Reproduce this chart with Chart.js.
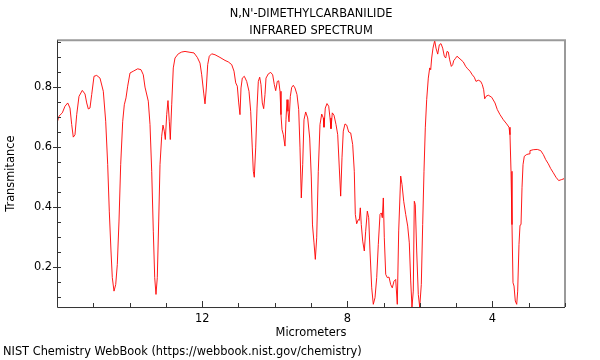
<!DOCTYPE html>
<html>
<head>
<meta charset="utf-8">
<script src="https://cdn.jsdelivr.net/npm/chart.js@4/dist/chart.umd.min.js"></script>
<style>
  html, body { margin: 0; padding: 0; background: #ffffff; }
  #wrap { width: 600px; height: 360px; }
</style>
</head>
<body>
<div id="wrap"><canvas id="c" width="600" height="360"></canvas></div>
<script>
// ---- Data ----
const titleLines = ["N,N'-DIMETHYLCARBANILIDE", "INFRARED SPECTRUM"];
const sourceNote = "NIST Chemistry WebBook (https://webbook.nist.gov/chemistry)";
const xAxisTitle = "Micrometers";
const yAxisTitle = "Transmitance";

const xTickLabels = [12, 8, 4];
const yTickLabels = [0.2, 0.4, 0.6, 0.8];

const micrometers = [
  16.000, 15.945, 15.854, 15.780, 15.705, 15.642, 15.595, 15.551, 15.504, 15.457,
  15.394, 15.303, 15.228, 15.181, 15.137, 15.091, 15.044, 14.980, 14.906, 14.815,
  14.724, 14.658, 14.603, 14.559, 14.512, 14.476, 14.429, 14.382, 14.338, 14.291,
  14.245, 14.189, 14.145, 14.098, 14.052, 13.988, 13.897, 13.776, 13.685, 13.622,
  13.575, 13.484, 13.437, 13.390, 13.346, 13.307, 13.272, 13.236, 13.197, 13.161,
  13.115, 13.079, 13.043, 13.015, 12.977, 12.941, 12.905, 12.878, 12.839, 12.795,
  12.748, 12.657, 12.563, 12.472, 12.335, 12.224, 12.133, 12.059, 12.012, 11.957,
  11.921, 11.885, 11.847, 11.803, 11.737, 11.646, 11.508, 11.370, 11.279, 11.185,
  11.122, 11.075, 11.031, 10.992, 10.957, 10.929, 10.893, 10.838, 10.772, 10.709,
  10.662, 10.618, 10.590, 10.563, 10.524, 10.488, 10.452, 10.414, 10.378, 10.342,
  10.304, 10.268, 10.240, 10.177, 10.111, 10.056, 10.011, 9.973, 9.929, 9.890,
  9.854, 9.827, 9.799, 9.763, 9.717, 9.689, 9.661, 9.634, 9.606, 9.570,
  9.532, 9.488, 9.441, 9.386, 9.339, 9.303, 9.267, 9.229, 9.193, 9.146,
  9.091, 9.036, 8.992, 8.959, 8.917, 8.881, 8.843, 8.799, 8.752, 8.705,
  8.661, 8.642, 8.606, 8.559, 8.512, 8.476, 8.449, 8.413, 8.366, 8.311,
  8.264, 8.220, 8.182, 8.146, 8.110, 8.063, 8.016, 7.961, 7.906, 7.851,
  7.807, 7.779, 7.741, 7.696, 7.669, 7.641, 7.614, 7.575, 7.531, 7.493,
  7.448, 7.410, 7.374, 7.327, 7.283, 7.236, 7.189, 7.145, 7.098, 7.063,
  7.035, 7.007, 6.980, 6.941, 6.897, 6.850, 6.804, 6.760, 6.713, 6.666,
  6.622, 6.583, 6.528, 6.492, 6.445, 6.390, 6.335, 6.291, 6.252, 6.217,
  6.181, 6.153, 6.126, 6.087, 6.043, 6.004, 5.960, 5.922, 5.886, 5.850,
  5.812, 5.767, 5.729, 5.701, 5.674, 5.638, 5.591, 5.555, 5.508, 5.464,
  5.417, 5.371, 5.326, 5.288, 5.252, 5.216, 5.178, 5.133, 5.095, 5.068,
  5.023, 4.976, 4.921, 4.866, 4.803, 4.737, 4.682, 4.618, 4.555, 4.500,
  4.453, 4.389, 4.323, 4.279, 4.241, 4.213, 4.177, 4.114, 4.020, 3.929,
  3.866, 3.791, 3.700, 3.607, 3.543, 3.516, 3.488, 3.461, 3.433, 3.405,
  3.370, 3.331, 3.304, 3.268, 3.240, 3.212, 3.185, 3.157, 3.122, 3.056,
  2.992, 2.965, 2.874, 2.763, 2.670, 2.598, 2.532, 2.460, 2.394, 2.322,
  2.248, 2.174, 2.102, 2.028, 2.000
];

const transmittance = [
  0.680, 0.703, 0.714, 0.736, 0.747, 0.730, 0.675, 0.633, 0.641, 0.708,
  0.769, 0.789, 0.777, 0.747, 0.727, 0.730, 0.775, 0.836, 0.839, 0.830,
  0.786, 0.686, 0.541, 0.386, 0.253, 0.164, 0.119, 0.141, 0.208, 0.353,
  0.541, 0.686, 0.741, 0.764, 0.803, 0.847, 0.853, 0.861, 0.858, 0.841,
  0.800, 0.753, 0.675, 0.519, 0.319, 0.164, 0.108, 0.164, 0.353, 0.541,
  0.636, 0.673, 0.653, 0.625, 0.708, 0.755, 0.686, 0.625, 0.741, 0.864,
  0.897, 0.911, 0.917, 0.919, 0.916, 0.914, 0.899, 0.880, 0.841, 0.780,
  0.744, 0.797, 0.875, 0.903, 0.911, 0.908, 0.899, 0.889, 0.884, 0.875,
  0.853, 0.814, 0.803, 0.747, 0.708, 0.797, 0.830, 0.836, 0.819, 0.786,
  0.719, 0.597, 0.519, 0.499, 0.597, 0.730, 0.819, 0.833, 0.808, 0.747,
  0.728, 0.775, 0.830, 0.844, 0.849, 0.841, 0.808, 0.788, 0.819, 0.821,
  0.786, 0.708, 0.658, 0.641, 0.603, 0.691, 0.758, 0.719, 0.684, 0.769,
  0.799, 0.806, 0.797, 0.775, 0.725, 0.597, 0.430, 0.541, 0.691, 0.717,
  0.697, 0.630, 0.500, 0.340, 0.280, 0.225, 0.297, 0.519, 0.675, 0.710,
  0.697, 0.666, 0.730, 0.745, 0.736, 0.697, 0.661, 0.714, 0.706, 0.675,
  0.641, 0.530, 0.436, 0.564, 0.653, 0.677, 0.673, 0.650, 0.647, 0.608,
  0.519, 0.375, 0.344, 0.358, 0.355, 0.397, 0.341, 0.286, 0.253, 0.319,
  0.386, 0.364, 0.253, 0.130, 0.075, 0.097, 0.164, 0.275, 0.375, 0.380,
  0.364, 0.430, 0.297, 0.175, 0.164, 0.166, 0.141, 0.130, 0.152, 0.158,
  0.075, 0.320, 0.503, 0.475, 0.419, 0.375, 0.336, 0.280, 0.153, 0.066,
  0.119, 0.419, 0.408, 0.253, 0.108, 0.066, 0.141, 0.341, 0.519, 0.664,
  0.758, 0.830, 0.864, 0.858, 0.897, 0.930, 0.955, 0.930, 0.910, 0.941,
  0.945, 0.930, 0.903, 0.897, 0.919, 0.917, 0.891, 0.869, 0.875, 0.888,
  0.895, 0.903, 0.897, 0.891, 0.884, 0.869, 0.861, 0.853, 0.841, 0.833,
  0.819, 0.823, 0.819, 0.808, 0.791, 0.761, 0.769, 0.773, 0.766, 0.747,
  0.725, 0.708, 0.691, 0.677, 0.666, 0.641, 0.519, 0.341, 0.147, 0.136,
  0.086, 0.075, 0.119, 0.275, 0.339, 0.341, 0.464, 0.541, 0.569, 0.575,
  0.577, 0.588, 0.591, 0.592, 0.588, 0.575, 0.558, 0.544, 0.528, 0.514,
  0.499, 0.488, 0.491, 0.494, 0.500
];

// ---- Chart ----
const FONT = "'DejaVu Sans', 'Liberation Sans', sans-serif";
const FS = 11.4;
const points = micrometers.map((m, i) => ({ x: m, y: transmittance[i] }));

const LEFT_PAD = 3;
const PLOT_LEFT = 57;
const RIGHT_PAD = 35;

// re-centre the title over the plot area
const centerTitle = {
  id: 'centerTitle',
  afterLayout(chart) {
    const tb = chart.titleBlock;
    const ca = chart.chartArea;
    if (tb && ca) {
      tb.left = ca.left + ca.right - tb.right;
      tb.width = tb.right - tb.left;
    }
  }
};

// frame + tick marks drawn from the scales
const frameTicks = {
  id: 'frameTicks',
  afterDatasetsDraw(chart) {
    const { ctx, chartArea: { left, right, top, bottom }, scales: { x, y } } = chart;
    ctx.save();
    ctx.strokeStyle = '#9a9a9a';
    ctx.lineWidth = 2;
    ctx.beginPath();
    ctx.moveTo(left, top);
    ctx.lineTo(right, top);
    ctx.lineTo(right, bottom);
    ctx.stroke();
    ctx.strokeStyle = '#333333';
    ctx.lineWidth = 1;
    ctx.beginPath();
    ctx.moveTo(left + 0.5, top);
    ctx.lineTo(left + 0.5, bottom + 0.5);
    ctx.lineTo(right, bottom + 0.5);
    ctx.stroke();
    for (let v = Math.ceil(x.min); v <= Math.floor(x.max); v += 1) {
      const px = Math.round(x.getPixelForValue(v)) + 0.5;
      const major = xTickLabels.includes(v);
      ctx.beginPath();
      ctx.moveTo(px, bottom);
      ctx.lineTo(px, bottom - (major ? 6 : 4));
      ctx.stroke();
    }
    for (let k = Math.ceil(y.min / 0.05); k * 0.05 <= y.max + 1e-9; k++) {
      const v = +(k * 0.05).toFixed(2);
      const py = Math.round(y.getPixelForValue(v)) + 0.5;
      const major = yTickLabels.some(t => Math.abs(t - v) < 1e-6);
      ctx.beginPath();
      ctx.moveTo(left - (major ? 4 : 0), py);
      ctx.lineTo(left + 4, py);
      ctx.stroke();
    }
    ctx.restore();
  }
};

new Chart(document.getElementById('c'), {
  type: 'line',
  data: {
    datasets: [{
      data: points,
      borderColor: 'rgba(255,0,0,0.9)',
      borderWidth: 1,
      pointRadius: 0,
      tension: 0,
      fill: false
    }]
  },
  options: {
    responsive: false,
    animation: false,
    layout: { padding: { left: LEFT_PAD, right: RIGHT_PAD, top: 0, bottom: 0 } },
    plugins: {
      legend: { display: false },
      tooltip: { enabled: false },
      title: {
        display: true,
        text: titleLines,
        color: '#000000',
        font: { family: FONT, size: FS, weight: 'normal', lineHeight: 1.55 },
        padding: { top: 5, bottom: 0 }
      },
      subtitle: {
        display: true,
        position: 'bottom',
        align: 'start',
        text: sourceNote,
        color: '#000000',
        font: { family: FONT, size: FS, weight: 'normal', lineHeight: 1.2 },
        padding: { top: 5, bottom: 1 }
      }
    },
    scales: {
      x: {
        type: 'linear',
        reverse: true,
        min: 2,
        max: 16,
        afterBuildTicks(scale) { scale.ticks = xTickLabels.map(v => ({ value: v })); },
        afterFit(scale) { scale.height = 33.3; },
        ticks: {
          color: '#000000',
          font: { family: FONT, size: FS },
          padding: 5,
          maxRotation: 0,
          callback: (v) => String(v)
        },
        grid: { display: false, drawTicks: false },
        border: { display: false },
        title: {
          display: true,
          text: xAxisTitle,
          color: '#000000',
          font: { family: FONT, size: FS },
          padding: { top: 0, bottom: 0 }
        }
      },
      y: {
        type: 'linear',
        min: 0.066,
        max: 0.956,
        afterBuildTicks(scale) { scale.ticks = yTickLabels.map(v => ({ value: v })); },
        afterFit(scale) { scale.width = PLOT_LEFT - LEFT_PAD; },
        ticks: {
          color: '#000000',
          font: { family: FONT, size: FS },
          padding: 5,
          callback: (v) => v.toFixed(1)
        },
        grid: { display: false, drawTicks: false },
        border: { display: false },
        title: {
          display: true,
          text: yAxisTitle,
          color: '#000000',
          font: { family: FONT, size: FS },
          padding: { top: 1, bottom: 0 }
        }
      }
    }
  },
  plugins: [centerTitle, frameTicks]
});
</script>
</body>
</html>
